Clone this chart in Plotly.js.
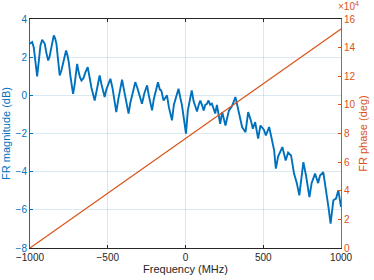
<!DOCTYPE html>
<html>
<head>
<meta charset="utf-8">
<script src="https://cdn.plot.ly/plotly-3.0.1.min.js"></script>
<style>html,body{margin:0;padding:0;background:#fff;}#chart{width:374px;height:280px;}</style>
</head>
<body>
<div id="chart"></div>
<script>
// Frequency (MHz) for the magnitude trace
const freqMHz = [-1000,-986,-976,-965,-954,-942,-933,-922,-913,-905,-894,-883,-875,-862,-847,-839,-830,-820,-809,-798,-785,-768,-759,-750,-740,-723,-714,-705,-697,-689,-679,-669,-656,-644,-629,-618,-605,-584,-573,-563,-552,-541,-531,-520,-509,-496,-483,-470,-457,-445,-432,-419,-408,-396,-380,-366,-355,-342,-323,-310,-297,-280,-265,-247,-236,-226,-215,-204,-191,-177,-165,-156,-141,-130,-119,-107,-98,-87,-75,-59,-45,-34,-23,-11,3,15,31,40,52,63,74,85,95,106,117,127,138,148,159,170,181,191,202,212,223,236,257,279,300,321,339,352,364,386,403,420,433,448,467,482,504,517,538,555,570,581,596,623,644,660,679,698,716,732,746,758,775,797,811,822,833,853,865,886,908,920,933,951,968,983,1000];
// FR magnitude (dB)
const magnitudeDB = [2.70,2.79,2.52,1.8,0.99,1.9,2.6,2.91,2.8,2.70,2.2,1.83,2.0,2.6,3.14,3.0,2.70,1.9,1.04,1.3,1.7,2.35,2.1,1.7,1.0,0.08,0.5,1.2,1.65,1.3,0.95,0.78,0.9,1.2,1.48,1.0,0.4,-0.27,0.2,0.7,1.04,0.6,0.2,-0.09,0.3,0.6,0.87,0.4,-0.3,-0.88,-0.2,0.4,0.82,0.3,-0.4,-0.96,-0.4,0.1,0.69,0.4,0.0,-0.44,0.1,0.52,0.0,-0.4,-0.79,-0.2,0.3,0.69,0.3,0.26,-0.27,-0.1,0.0,-0.62,-1.0,-1.31,-0.5,0.0,0.35,-0.1,-0.5,-1.2,-2.01,-0.8,0.0,0.26,-0.3,-0.62,-0.85,-0.5,-0.27,-0.5,-0.8,-0.5,-0.45,-0.27,-0.5,-0.44,-0.7,-0.95,-0.5,-1.0,-1.49,-0.88,-1.58,-0.8,-0.55,-0.09,-0.8,-1.2,-1.66,-1.93,-0.88,-1.3,-1.75,-1.4,-2.27,-1.58,-1.8,-2.1,-1.66,-2.3,-2.88,-3.84,-3.2,-2.71,-3.41,-3.0,-3.15,-4.1,-4.6,-5.24,-4.3,-3.50,-4.2,-5.33,-4.6,-4.28,-4.10,-4.6,-4.2,-4.02,-5.15,-5.9,-6.72,-5.5,-5.41,-4.98,-5.85];
// FR phase (deg)
const phaseFreqMHz = [-1000, 1000];
const phaseDeg = [0, 153000];
// Tick labels
const xTicks = [-1000,-500,0,500,1000];
const yTicks = [-8,-6,-4,-2,0,2,4];
const y2TickVals = [0,20000,40000,60000,80000,100000,120000,140000,160000];
const y2TickText = ['0','2','4','6','8','10','12','14','16'];

const blue = '#0072BD', orange = '#D95319', dark = '#262626';
const font = {family: 'Liberation Sans, Arial, sans-serif', size: 10};

const traces = [
  {x: freqMHz, y: magnitudeDB, type: 'scatter', mode: 'lines', line: {color: blue, width: 1.9}, yaxis: 'y', hoverinfo: 'skip'},
  {x: phaseFreqMHz, y: phaseDeg, type: 'scatter', mode: 'lines', line: {color: orange, width: 1.2}, yaxis: 'y2', hoverinfo: 'skip'}
];

const layout = {
  width: 374, height: 280,
  margin: {l: 30, r: 33, t: 19, b: 32, pad: 0},
  paper_bgcolor: '#fff', plot_bgcolor: '#fff',
  font: font,
  showlegend: false,
  xaxis: {
    range: [-1000, 1000], tickvals: xTicks, ticks: 'inside', ticklen: 3, tickcolor: dark,
    showline: true, linecolor: dark, linewidth: 1, mirror: 'ticks',
    showgrid: true, gridcolor: 'rgba(38,38,38,0.13)', zeroline: false,
    tickfont: {color: dark, size: 10, family: font.family},
    title: {text: 'Frequency (MHz)', font: {color: dark, size: 11, family: font.family}, standoff: 2},
    automargin: false
  },
  yaxis: {
    range: [-8, 4], tickvals: yTicks, ticks: 'inside', ticklen: 3, tickcolor: blue,
    showline: true, linecolor: blue, linewidth: 1, mirror: false,
    showgrid: true, gridcolor: 'rgba(0,114,189,0.15)', zeroline: false,
    tickfont: {color: blue, size: 10, family: font.family},
    title: {text: 'FR magnitude (dB)', font: {color: blue, size: 11, family: font.family}, standoff: 4},
    automargin: false
  },
  yaxis2: {
    range: [0, 160000], tickvals: y2TickVals, ticktext: y2TickText, overlaying: 'y', side: 'right',
    ticks: 'inside', ticklen: 3, tickcolor: orange,
    showline: true, linecolor: orange, linewidth: 1,
    showgrid: false, zeroline: false,
    tickfont: {color: orange, size: 10, family: font.family},
    title: {text: 'FR phase (deg)', font: {color: orange, size: 11, family: font.family}, standoff: 4},
    automargin: false
  },
  annotations: [
    {xref: 'paper', yref: 'paper', x: 1, y: 1, xanchor: 'left', yanchor: 'bottom', showarrow: false,
     text: '×10<sup>4</sup>', font: {color: orange, size: 10, family: font.family}, xshift: -5, yshift: 5}
  ]
};

Plotly.newPlot('chart', traces, layout, {staticPlot: true, displayModeBar: false});
</script>
</body>
</html>
